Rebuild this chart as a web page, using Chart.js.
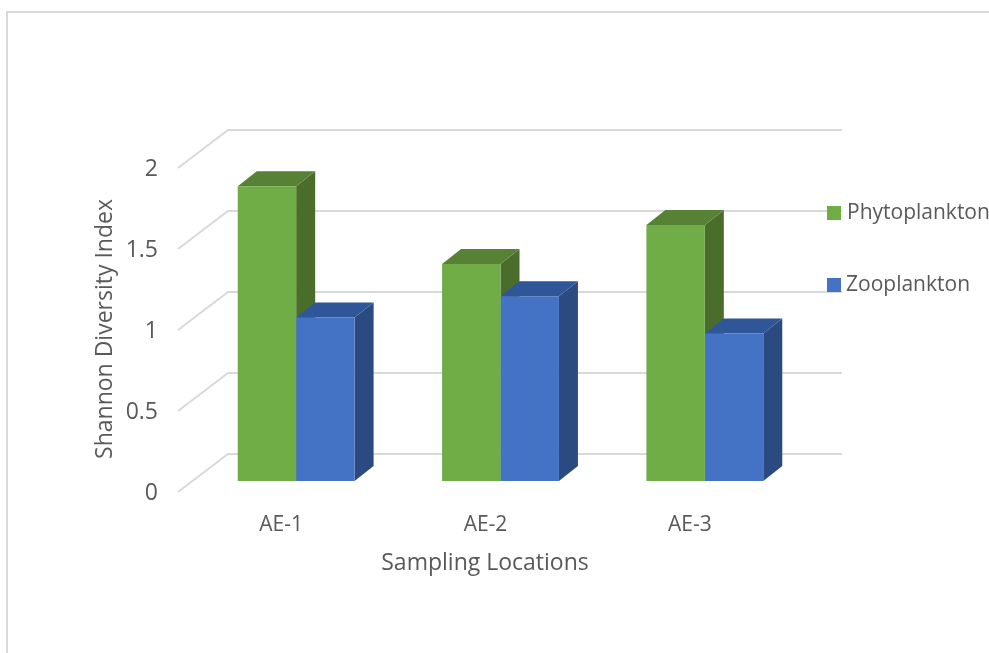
<!DOCTYPE html>
<html lang="en">
<head>
  <meta charset="UTF-8" />
  <title>Shannon Diversity Index</title>
  <script src="https://cdn.jsdelivr.net/npm/chart.js"></script>
  <style>
    html, body { margin: 0; background: #fff; overflow: hidden; }
    #frame { position: absolute; left: 6px; top: 11px; width: 983px; height: 642px; border-left: 2px solid #d9d9d9; border-top: 2px solid #d9d9d9; box-sizing: border-box; }
    canvas { position: absolute; left: 0; top: 0; }
  </style>
</head>
<body>
  <div id="frame"></div>
  <canvas id="chart" width="989" height="653"></canvas>

  <script>
    const locations = ['AE-1', 'AE-2', 'AE-3'];
    const phytoplankton = [1.82, 1.34, 1.58];
    const zooplankton = [1.01, 1.14, 0.91];
    const yTicks = [0, 0.5, 1, 1.5, 2];

    const textColor = '#595959';
    const fontFamily = '"Open Sans", sans-serif';

    // side and top colours for the fake 3D look
    const faces = [
      { side: '#4a6d2c', top: '#578135' },
      { side: '#2a4a80', top: '#30569a' }
    ];

    const fake3d = {
      id: 'fake3d',
      beforeDatasetsDraw(chart) {
        const { ctx, chartArea, scales: { y } } = chart;
        ctx.save();

        // back wall lines and the floor diagonals
        ctx.strokeStyle = '#d9d9d9';
        ctx.lineWidth = 2;
        yTicks.forEach(v => {
          const py = y.getPixelForValue(v);
          ctx.beginPath();
          ctx.moveTo(chartArea.left - 16, py + 11);
          ctx.lineTo(chartArea.left + 34, py - 27);
          ctx.lineTo(chartArea.right + 35, py - 27);
          ctx.stroke();
        });

        // bar depth
        const dx = 19, dy = 15;
        chart.data.datasets.forEach((ds, i) => {
          chart.getDatasetMeta(i).data.forEach(bar => {
            const half = bar.width / 2;
            const l = bar.x - half, r = bar.x + half;
            ctx.fillStyle = faces[i].side;
            ctx.beginPath();
            ctx.moveTo(r, bar.y);
            ctx.lineTo(r + dx, bar.y - dy);
            ctx.lineTo(r + dx, bar.base - dy);
            ctx.lineTo(r, bar.base);
            ctx.fill();
            ctx.fillStyle = faces[i].top;
            ctx.beginPath();
            ctx.moveTo(l, bar.y);
            ctx.lineTo(l + dx, bar.y - dy);
            ctx.lineTo(r + dx, bar.y - dy);
            ctx.lineTo(r, bar.y);
            ctx.fill();
          });
        });
        ctx.restore();
      },
      afterDraw(chart) {
        const { ctx } = chart;
        ctx.save();
        ctx.fillStyle = textColor;
        ctx.textBaseline = 'middle';

        // axis titles
        ctx.font = '23px ' + fontFamily;
        ctx.textAlign = 'center';
        ctx.fillText('Sampling Locations', 485, 563);
        ctx.save();
        ctx.translate(105, 329);
        ctx.rotate(-Math.PI / 2);
        ctx.fillText('Shannon Diversity Index', 0, 0);
        ctx.restore();

        // legend
        ctx.font = '21px ' + fontFamily;
        ctx.textAlign = 'left';
        const legendY = [213, 285];
        chart.data.datasets.forEach((ds, i) => {
          ctx.fillStyle = ds.backgroundColor;
          ctx.fillRect(827, legendY[i] - 7, 14, 14);
          ctx.fillStyle = textColor;
          ctx.fillText(ds.label, 847 - i, legendY[i]);
        });
        ctx.restore();
      }
    };

    new Chart(document.getElementById('chart'), {
      type: 'bar',
      data: {
        labels: locations,
        datasets: [
          { label: 'Phytoplankton', data: phytoplankton, backgroundColor: '#70ad47' },
          { label: 'Zooplankton', data: zooplankton, backgroundColor: '#4472c4' }
        ]
      },
      options: {
        responsive: false,
        animation: false,
        layout: { padding: { top: 157, right: 182 } },
        datasets: { bar: { barPercentage: 1, categoryPercentage: 0.572 } },
        plugins: { legend: { display: false }, tooltip: { enabled: false } },
        scales: {
          x: {
            grid: { display: false },
            border: { display: false },
            ticks: { color: textColor, font: { family: fontFamily, size: 21 }, padding: 23, labelOffset: -15, maxRotation: 0 },
            afterFit(scale) { scale.height = 172; }
          },
          y: {
            min: 0,
            max: 2,
            grid: { display: false },
            border: { display: false },
            afterBuildTicks(scale) { scale.ticks = yTicks.map(value => ({ value })); },
            ticks: { color: textColor, font: { family: fontFamily, size: 23 }, padding: 28, labelOffset: 12, callback: v => String(v) },
            afterFit(scale) { scale.width = 194; }
          }
        }
      },
      plugins: [fake3d]
    });
  </script>
</body>
</html>
